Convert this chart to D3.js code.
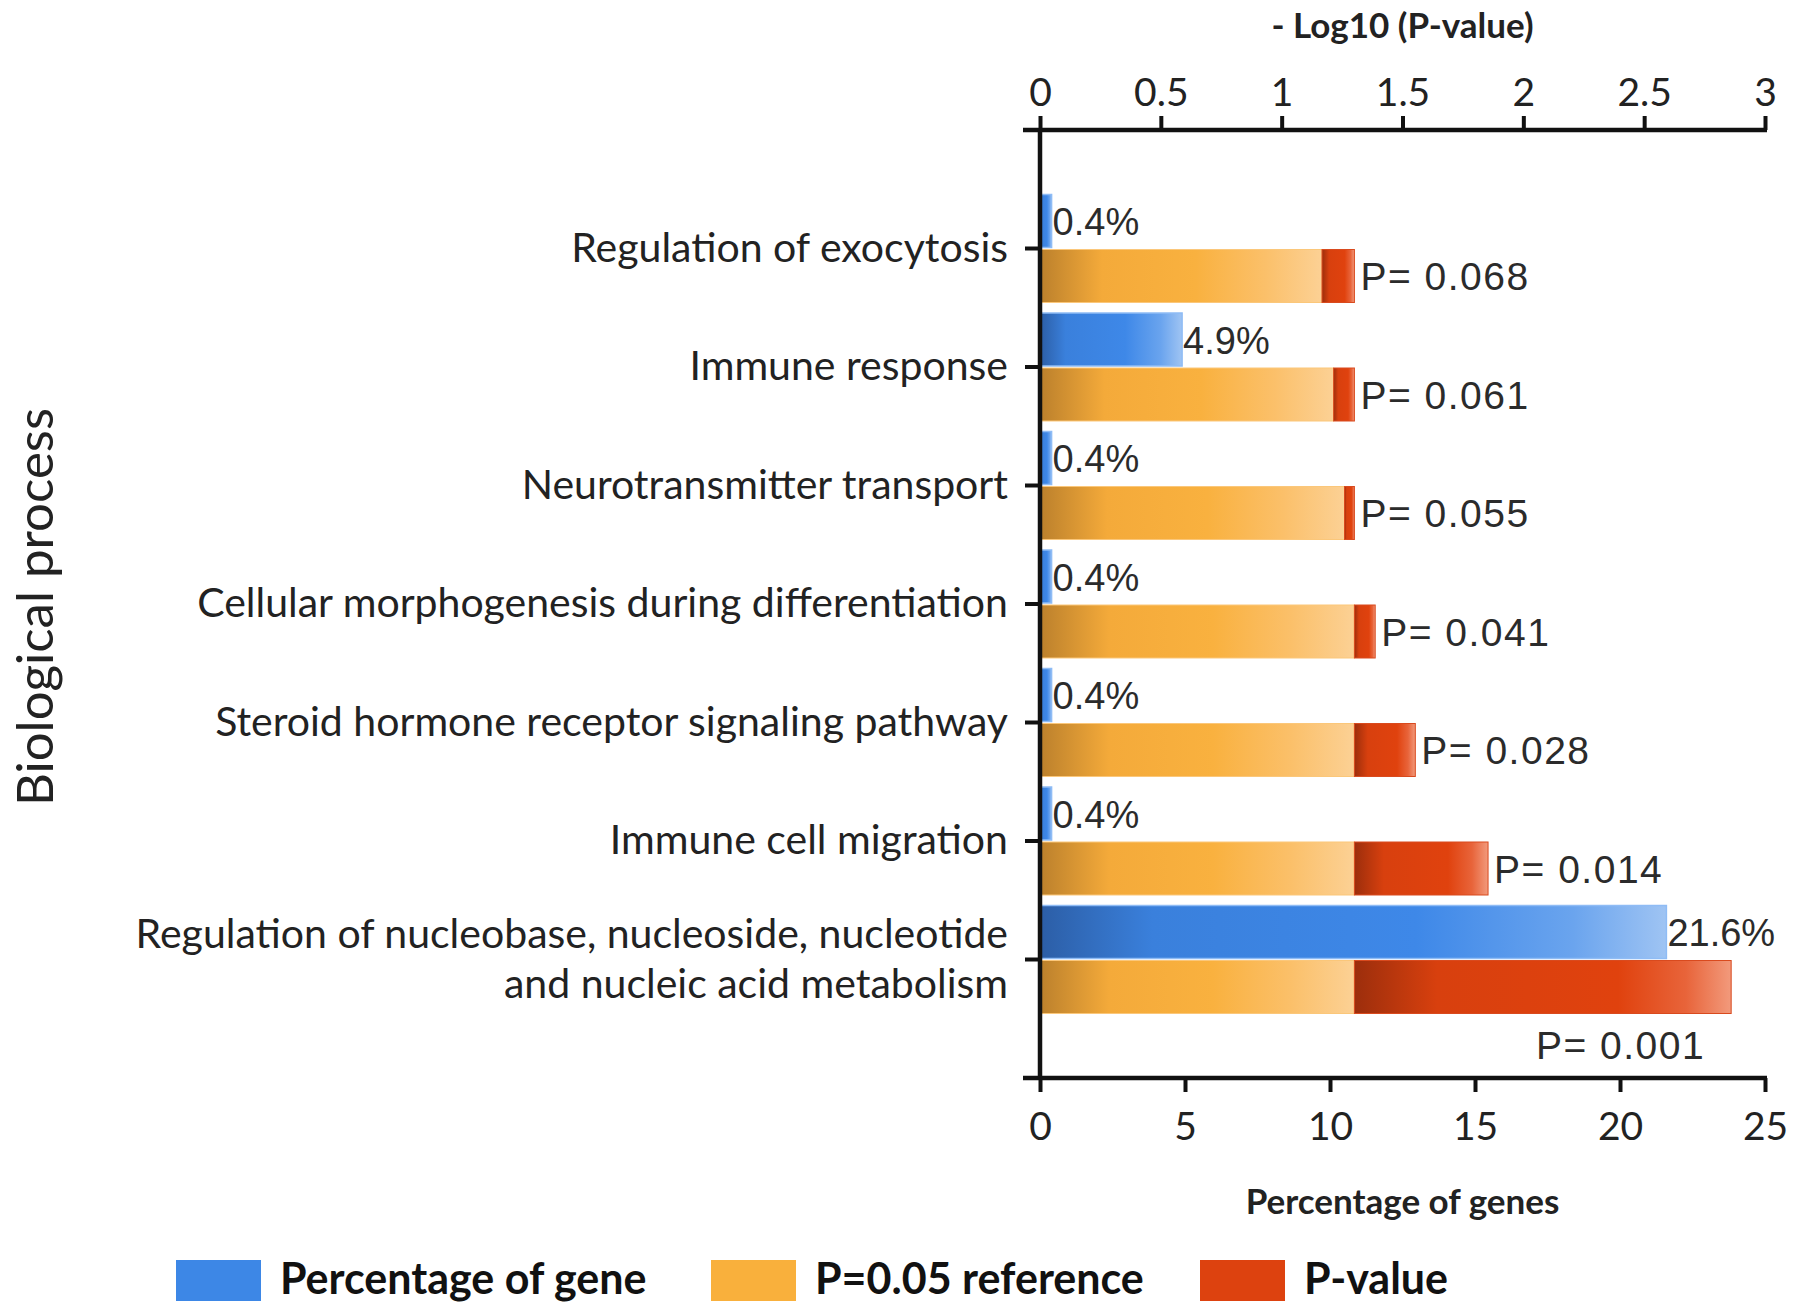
<!DOCTYPE html>
<html>
<head>
<meta charset="utf-8">
<script src="https://cdn.jsdelivr.net/npm/d3@7"></script>
<style>
  body { margin: 0; background: #fff; }
  svg { display: block; }
</style>
</head>
<body>
<div id="chart"></div>
<script>
const width = 1795;
const height = 1315;

// data
const categories = [
  "Regulation of exocytosis",
  "Immune response",
  "Neurotransmitter transport",
  "Cellular morphogenesis during differentiation",
  "Steroid hormone receptor signaling pathway",
  "Immune cell migration",
  "Regulation of nucleobase, nucleoside, nucleotide|and nucleic acid metabolism"
];
const geneShare = [0.4, 4.9, 0.4, 0.4, 0.4, 0.4, 21.6];     // percentage of genes
const negLogP = [1.167, 1.215, 1.26, 1.387, 1.553, 1.854, 2.86]; // -log10(P)
const pLabels = ["P= 0.068", "P= 0.061", "P= 0.055", "P= 0.041", "P= 0.028", "P= 0.014", "P= 0.001"];
const refNegLog = 1.301; // P = 0.05 reference
const pctTicks = [0, 5, 10, 15, 20, 25];
const logTicks = [0, 0.5, 1, 1.5, 2, 2.5, 3];
const legendItems = ["Percentage of gene", "P=0.05 reference", "P-value"];

const rows = categories.map((c, i) => ({
  name: c, pct: geneShare[i], p: negLogP[i], label: pLabels[i]
}));

// layout
const plotLeft = 1040, plotRight = 1765, plotTop = 130, plotBottom = 1078;
const labelFont = "Lato, 'Open Sans', sans-serif";
const valueFont = "'Liberation Sans', Arial, sans-serif";

const svg = d3.select("#chart").append("svg")
  .attr("width", width)
  .attr("height", height);

// gradients
const defs = svg.append("defs");
const gradients = {
  blue: [[0, "#2c5ea6"], [0.18, "#3a80dc"], [0.6, "#3e88e8"], [0.85, "#6aa4ee"], [1, "#9fc4f3"]],
  orange: [[0, "#bb802c"], [0.22, "#f4aa3a"], [0.55, "#f9b13f"], [0.8, "#fbc06a"], [1, "#fcd195"]],
  red: [[0, "#9c2e0c"], [0.22, "#d8400e"], [0.7, "#e0420e"], [0.88, "#e8643a"], [1, "#f29a7c"]]
};
Object.entries(gradients).forEach(([key, stops]) => {
  defs.append("linearGradient")
    .attr("id", "grad-" + key)
    .attr("x1", "0%").attr("x2", "100%").attr("y1", "0%").attr("y2", "0%")
    .selectAll("stop")
    .data(stops)
    .join("stop")
    .attr("offset", d => d[0])
    .attr("stop-color", d => d[1]);
});

// scales
const xPct = d3.scaleLinear().domain([0, 25]).range([plotLeft, plotRight]);
const xLog = d3.scaleLinear().domain([0, 3]).range([plotLeft, plotRight]);
const y = d3.scaleBand()
  .domain(categories)
  .range([plotTop, plotBottom])
  .paddingInner(0)
  .paddingOuter(0.5);
const yMid = d => y(d) + y.bandwidth() / 2;
const barH = 53;

// bars
const g = svg.append("g");

// blue: percentage of genes (above the tick)
g.selectAll("rect.pct")
  .data(rows)
  .join("rect")
  .attr("class", "pct")
  .attr("x", xPct(0))
  .attr("y", d => yMid(d.name) - barH - 1)
  .attr("width", d => xPct(d.pct) - xPct(0))
  .attr("height", barH)
  .attr("fill", "url(#grad-blue)")
  .attr("stroke", "#8fbcf5")
  .attr("stroke-width", 1.5);

// orange: reference part
g.selectAll("rect.ref")
  .data(rows)
  .join("rect")
  .attr("class", "ref")
  .attr("x", xLog(0))
  .attr("y", d => yMid(d.name) + 1)
  .attr("width", d => xLog(Math.min(d.p, refNegLog)) - xLog(0))
  .attr("height", barH)
  .attr("fill", "url(#grad-orange)")
  .attr("stroke", "#fbc77a")
  .attr("stroke-width", 1);

// red: difference between P-value and reference
g.selectAll("rect.pv")
  .data(rows)
  .join("rect")
  .attr("class", "pv")
  .attr("x", d => xLog(Math.min(d.p, refNegLog)))
  .attr("y", d => yMid(d.name) + 1)
  .attr("width", d => Math.abs(xLog(d.p) - xLog(refNegLog)))
  .attr("height", barH)
  .attr("fill", "url(#grad-red)")
  .attr("stroke", "#d94a1e")
  .attr("stroke-width", 1);

// value labels
g.selectAll("text.pct")
  .data(rows)
  .join("text")
  .attr("class", "pct")
  .attr("x", d => xPct(d.pct) + 1)
  .attr("y", d => yMid(d.name) - barH / 2 + 13)
  .attr("font-family", valueFont)
  .attr("font-size", 38)
  .attr("fill", "#2b2b2b")
  .text(d => d.pct + "%");

g.selectAll("text.pv")
  .data(rows)
  .join("text")
  .attr("class", "pv")
  .each(function (d) {
    const end = xLog(Math.max(d.p, refNegLog));
    const t = d3.select(this);
    if (end + 170 > plotRight + 20) {
      // no room at the right: put it under the bar
      t.attr("x", end - 26)
        .attr("y", yMid(d.name) + barH + 46)
        .attr("text-anchor", "end");
    } else {
      t.attr("x", end + 6)
        .attr("y", yMid(d.name) + barH / 2 + 15);
    }
  })
  .attr("font-family", valueFont)
  .attr("font-size", 39)
  .attr("letter-spacing", 1.5)
  .attr("fill", "#2b2b2b")
  .text(d => d.label);

// axes
const axisColor = "#111";
const topAxis = svg.append("g")
  .attr("transform", `translate(0,${plotTop})`)
  .call(d3.axisTop(xLog).tickValues(logTicks).tickSize(14).tickSizeOuter(0).tickPadding(10)
    .tickFormat(d => d));
const bottomAxis = svg.append("g")
  .attr("transform", `translate(0,${plotBottom})`)
  .call(d3.axisBottom(xPct).tickValues(pctTicks).tickSize(14).tickSizeOuter(0).tickPadding(20));
const leftAxis = svg.append("g")
  .attr("transform", `translate(${plotLeft},0)`)
  .call(d3.axisLeft(y).tickSize(15).tickFormat(""));

[topAxis, bottomAxis, leftAxis].forEach(a => {
  a.select(".domain").remove();
  a.selectAll(".tick line").attr("stroke", axisColor).attr("stroke-width", 4);
  a.selectAll(".tick text")
    .attr("font-family", labelFont)
    .attr("font-size", 39)
    .attr("fill", "#222");
});

// axis lines
svg.append("line")
  .attr("x1", plotLeft - 17).attr("x2", plotRight + 2)
  .attr("y1", plotTop).attr("y2", plotTop)
  .attr("stroke", axisColor).attr("stroke-width", 4.5);
svg.append("line")
  .attr("x1", plotLeft - 17).attr("x2", plotRight + 2)
  .attr("y1", plotBottom).attr("y2", plotBottom)
  .attr("stroke", axisColor).attr("stroke-width", 4.5);
svg.append("line")
  .attr("x1", plotLeft).attr("x2", plotLeft)
  .attr("y1", plotTop).attr("y2", plotBottom)
  .attr("stroke", axisColor).attr("stroke-width", 4.5);

// category labels
const catLabels = svg.append("g")
  .attr("font-family", labelFont)
  .attr("font-size", 41)
  .attr("fill", "#222")
  .attr("text-anchor", "end");
rows.forEach(d => {
  const lines = d.name.split("|");
  const lineH = 50;
  const t = catLabels.append("text")
    .attr("x", plotLeft - 32)
    .attr("y", yMid(d.name) + 13 - (lines.length - 1) * lineH / 2);
  lines.forEach((ln, k) => {
    t.append("tspan")
      .attr("x", plotLeft - 32)
      .attr("dy", k === 0 ? 0 : lineH)
      .text(ln);
  });
});

// axis titles
svg.append("text")
  .attr("x", (plotLeft + plotRight) / 2)
  .attr("y", 38)
  .attr("text-anchor", "middle")
  .attr("font-family", labelFont)
  .attr("font-weight", "bold")
  .attr("font-size", 35)
  .attr("fill", "#222")
  .text("- Log10  (P-value)");

svg.append("text")
  .attr("x", (plotLeft + plotRight) / 2)
  .attr("y", 1214)
  .attr("text-anchor", "middle")
  .attr("font-family", labelFont)
  .attr("font-weight", "bold")
  .attr("font-size", 35)
  .attr("fill", "#222")
  .text("Percentage of genes");

svg.append("text")
  .attr("transform", `translate(53,607) rotate(-90)`)
  .attr("text-anchor", "middle")
  .attr("font-family", labelFont)
  .attr("font-size", 51)
  .attr("fill", "#222")
  .text("Biological process");

// legend
const legendColors = ["#3d87e6", "#f9b03c", "#dd420f"];
const legendX = [176, 711, 1200];
const legend = svg.append("g");
legendItems.forEach((name, i) => {
  legend.append("rect")
    .attr("x", legendX[i])
    .attr("y", 1260)
    .attr("width", 85)
    .attr("height", 41)
    .attr("fill", legendColors[i]);
  legend.append("text")
    .attr("x", legendX[i] + 104)
    .attr("y", 1294)
    .attr("font-family", labelFont)
    .attr("font-weight", "bold")
    .attr("font-size", 43)
    .attr("fill", "#111")
    .text(name);
});
</script>
</body>
</html>
